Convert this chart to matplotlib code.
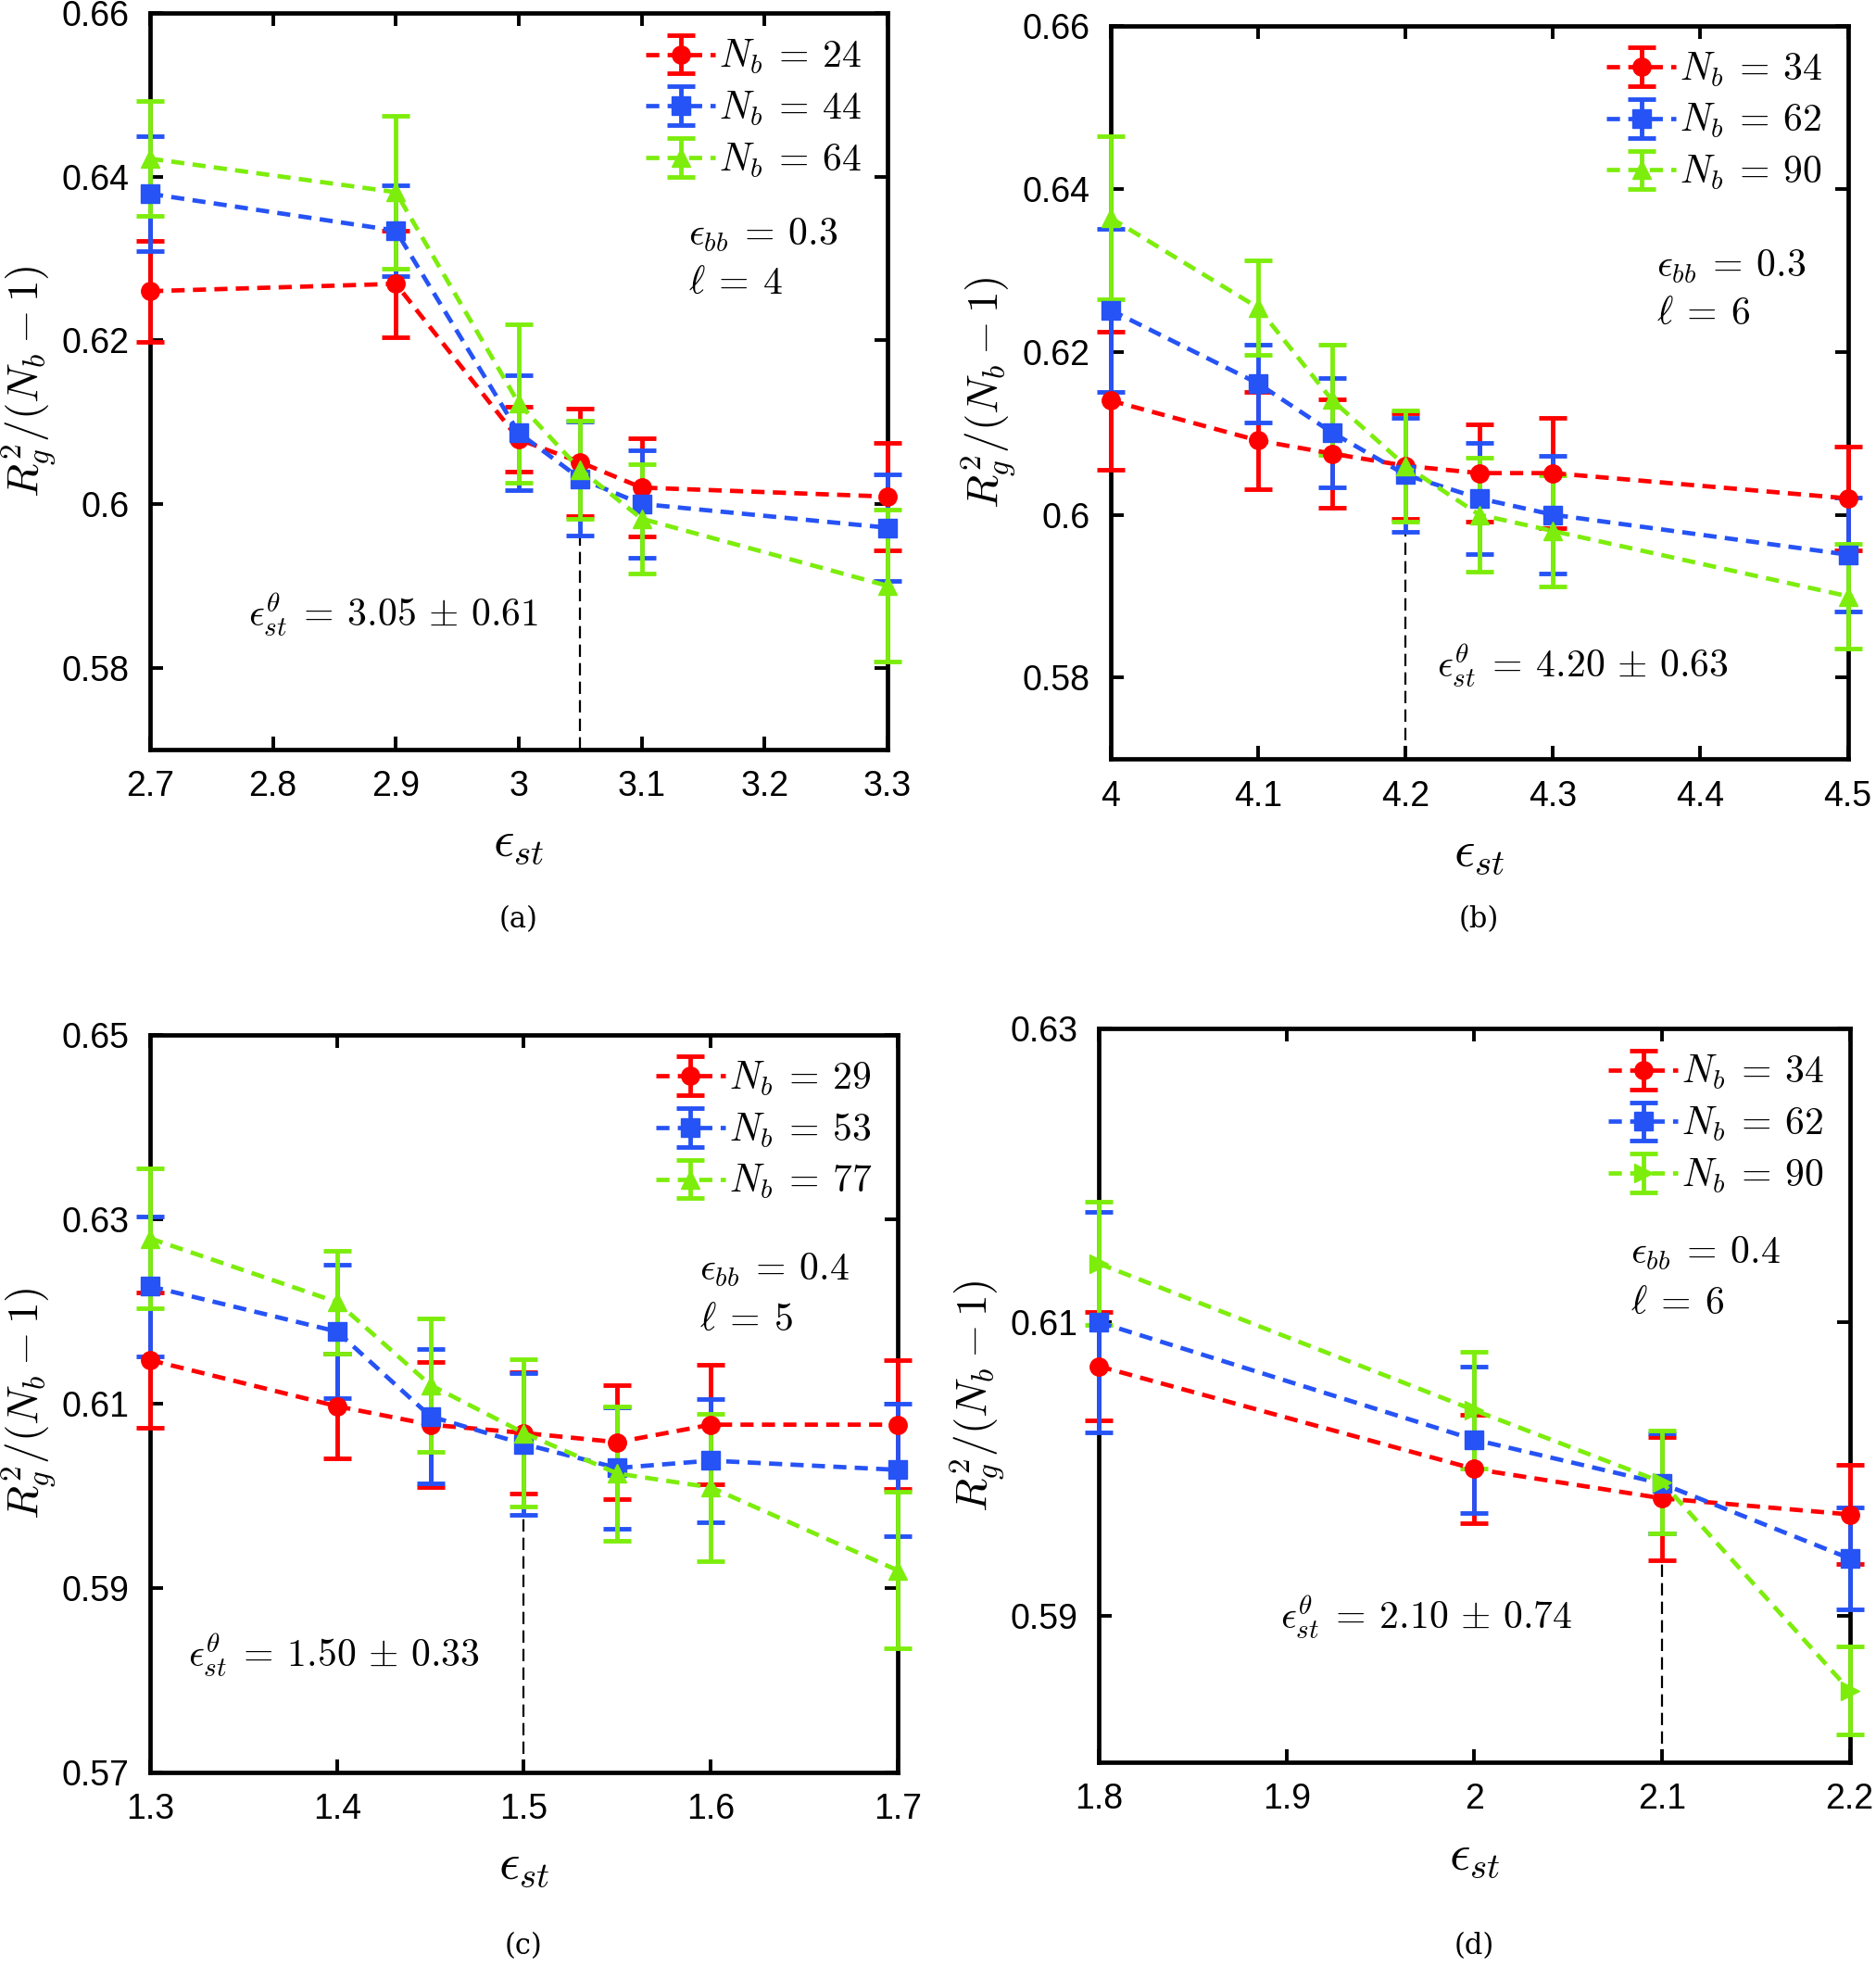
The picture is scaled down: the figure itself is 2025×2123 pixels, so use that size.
import matplotlib
matplotlib.use("Agg")
import matplotlib.pyplot as plt
from matplotlib.ticker import FuncFormatter, MultipleLocator

plt.rcParams["mathtext.fontset"] = "cm"
plt.rcParams["font.family"] = ["Liberation Sans", "DejaVu Sans"]

RED = "#ff0000"
BLUE = "#2653f5"
GREEN = "#7ded0c"

# ---- panel (a): eps_bb = 0.3, l = 4 ----
a_x = [2.7, 2.9, 3.0, 3.05, 3.1, 3.3]
a_nb = [24, 44, 64]
a_y24 = [0.626, 0.6269, 0.6079, 0.6051, 0.602, 0.6009]
a_e24 = [0.0062, 0.0065, 0.004, 0.0066, 0.006, 0.0066]
a_y44 = [0.6379, 0.6334, 0.6087, 0.6031, 0.600, 0.5971]
a_e44 = [0.007, 0.0055, 0.007, 0.007, 0.0066, 0.0065]
a_y64 = [0.6422, 0.6381, 0.6123, 0.6042, 0.5982, 0.590]
a_e64 = [0.007, 0.0093, 0.0097, 0.006, 0.0067, 0.0093]

# ---- panel (b): eps_bb = 0.3, l = 6 ----
b_x = [4.0, 4.1, 4.15, 4.2, 4.25, 4.3, 4.5]
b_nb = [34, 62, 90]
b_y34 = [0.614, 0.6091, 0.6075, 0.606, 0.6051, 0.6051, 0.602]
b_e34 = [0.0085, 0.006, 0.0066, 0.0065, 0.006, 0.0068, 0.0064]
b_y62 = [0.6251, 0.6161, 0.6101, 0.6049, 0.602, 0.600, 0.5951]
b_e62 = [0.010, 0.0048, 0.0067, 0.007, 0.0068, 0.0072, 0.007]
b_y90 = [0.6364, 0.6254, 0.6141, 0.606, 0.600, 0.598, 0.590]
b_e90 = [0.010, 0.0058, 0.0068, 0.0068, 0.007, 0.0068, 0.0064]

# ---- panel (c): eps_bb = 0.4, l = 5 ----
c_x = [1.3, 1.4, 1.45, 1.5, 1.55, 1.6, 1.7]
c_nb = [29, 53, 77]
c_y29 = [0.6147, 0.6097, 0.6077, 0.6068, 0.6058, 0.6077, 0.6077]
c_e29 = [0.0073, 0.0057, 0.0068, 0.0066, 0.0062, 0.0065, 0.007]
c_y53 = [0.6227, 0.6178, 0.6086, 0.6056, 0.603, 0.6038, 0.6028]
c_e53 = [0.0076, 0.0072, 0.0073, 0.0077, 0.0066, 0.0067, 0.0072]
c_y77 = [0.6279, 0.621, 0.612, 0.6068, 0.6024, 0.6009, 0.5919]
c_e77 = [0.0076, 0.0056, 0.0072, 0.008, 0.0073, 0.008, 0.0085]

# ---- panel (d): eps_bb = 0.4, l = 6 ----
d_x = [1.8, 2.0, 2.1, 2.2]
d_nb = [34, 62, 90]
d_y34 = [0.607, 0.600, 0.598, 0.5969]
d_e34 = [0.0037, 0.0037, 0.0042, 0.0034]
d_y62 = [0.610, 0.602, 0.599, 0.5939]
d_e62 = [0.0075, 0.005, 0.0034, 0.0035]
d_y90 = [0.614, 0.604, 0.5991, 0.5849]
d_e90 = [0.0042, 0.004, 0.0035, 0.003]

panels = [
    dict(rect=[0.080, 0.619, 0.393, 0.3744], x=a_x, nb=a_nb,
         ys=[a_y24, a_y44, a_y64], es=[a_e24, a_e44, a_e64],
         markers=["o", "s", "^"], xlim=(2.7, 3.3), xstep=0.1,
         ylim=(0.57, 0.66), yticks=[0.58, 0.60, 0.62, 0.64, 0.66],
         theta=3.05, theta_txt=r"$\epsilon_{st}^{\theta}\:=\:3.05\,\pm\,0.61$", theta_pos=(2.78, 0.5865),
         ebb=r"$\epsilon_{bb}\:=\:0.3$", ell=r"$\ell\:=\:4$", ebb_pos=(3.138, 0.6328), ell_pos=(3.138, 0.6269),
         tag="(a)", tag_y=0.5327),
    dict(rect=[0.592, 0.614, 0.393, 0.373], x=b_x, nb=b_nb,
         ys=[b_y34, b_y62, b_y90], es=[b_e34, b_e62, b_e90],
         markers=["o", "s", "^"], xlim=(4.0, 4.5), xstep=0.1,
         ylim=(0.57, 0.66), yticks=[0.58, 0.60, 0.62, 0.64, 0.66],
         theta=4.2, theta_txt=r"$\epsilon_{st}^{\theta}\:=\:4.20\,\pm\,0.63$", theta_pos=(4.221, 0.5815),
         ebb=r"$\epsilon_{bb}\:=\:0.3$", ell=r"$\ell\:=\:6$", ebb_pos=(4.37, 0.6304), ell_pos=(4.37, 0.6246),
         tag="(b)", tag_y=0.5327),
    dict(rect=[0.080, 0.099, 0.3985, 0.375], x=c_x, nb=c_nb,
         ys=[c_y29, c_y53, c_y77], es=[c_e29, c_e53, c_e77],
         markers=["o", "s", "^"], xlim=(1.3, 1.7), xstep=0.1,
         ylim=(0.57, 0.65), yticks=[0.57, 0.59, 0.61, 0.63, 0.65],
         theta=1.5, theta_txt=r"$\epsilon_{st}^{\theta}\:=\:1.50\,\pm\,0.33$", theta_pos=(1.3205, 0.5827),
         ebb=r"$\epsilon_{bb}\:=\:0.4$", ell=r"$\ell\:=\:5$", ebb_pos=(1.594, 0.6245), ell_pos=(1.594, 0.619),
         tag="(c)", tag_y=0.0105),
    dict(rect=[0.5857, 0.104, 0.4003, 0.373], x=d_x, nb=d_nb,
         ys=[d_y34, d_y62, d_y90], es=[d_e34, d_e62, d_e90],
         markers=["o", "s", ">"], xlim=(1.8, 2.2), xstep=0.1,
         ylim=(0.58, 0.63), yticks=[0.59, 0.61, 0.63],
         theta=2.1, theta_txt=r"$\epsilon_{st}^{\theta}\:=\:2.10\,\pm\,0.74$", theta_pos=(1.8966, 0.5899),
         ebb=r"$\epsilon_{bb}\:=\:0.4$", ell=r"$\ell\:=\:6$", ebb_pos=(2.083, 0.6147), ell_pos=(2.083, 0.6113),
         tag="(d)", tag_y=0.0105),
]

colors = [RED, BLUE, GREEN]
fmt = FuncFormatter(lambda v, p: f"{round(v, 4):g}")

fig = plt.figure(figsize=(20.25, 21.23), dpi=100)

for p in panels:
    ax = fig.add_axes(p["rect"])
    for y, e, c, m, n in zip(p["ys"], p["es"], colors, p["markers"], p["nb"]):
        ax.errorbar(p["x"], y, yerr=e, color=c, marker=m, markersize=14,
                    lw=3.4, ls=(0, (3.0, 1.9)), elinewidth=3.5, capsize=11,
                    capthick=3.5, label=rf"$N_b\:=\:{n}$", clip_on=False, zorder=3)
    i = p["x"].index(p["theta"])
    ax.plot([p["theta"], p["theta"]], [p["ylim"][0], min(p["ys"][0][i], p["ys"][1][i])],
            color="black", lw=1.6, ls=(0, (6, 3)), zorder=2)
    ax.set_xlim(*p["xlim"])
    ax.set_ylim(*p["ylim"])
    ax.xaxis.set_major_locator(MultipleLocator(p["xstep"]))
    ax.set_yticks(p["yticks"])
    ax.xaxis.set_major_formatter(fmt)
    ax.yaxis.set_major_formatter(fmt)
    ax.tick_params(direction="in", length=10, width=2.8, labelsize=27,
                   top=True, right=True, pad=16)
    for s in ax.spines.values():
        s.set_linewidth(3.4)
    ax.set_xlabel(r"$\epsilon_{st}$", fontsize=40, labelpad=12)
    ax.set_ylabel(r"$R_g^2/(N_b-1)$", fontsize=34, labelpad=3)
    ax.text(*p["theta_pos"], p["theta_txt"], fontsize=30, va="center", ha="left")
    ax.text(*p["ebb_pos"], p["ebb"], fontsize=30, va="center", ha="left")
    ax.text(*p["ell_pos"], p["ell"], fontsize=30, va="center", ha="left")
    ax.legend(loc="upper right", frameon=False, fontsize=30, handlelength=1.8,
              handletextpad=0.1, labelspacing=0.35, borderaxespad=0.3,
              borderpad=0.35)
    bb = p["rect"]
    fig.text(bb[0] + bb[2] / 2, p["tag_y"], p["tag"],
             ha="center", va="center", fontsize=22, family="DejaVu Serif")

fig.savefig("out.png", dpi=100)
